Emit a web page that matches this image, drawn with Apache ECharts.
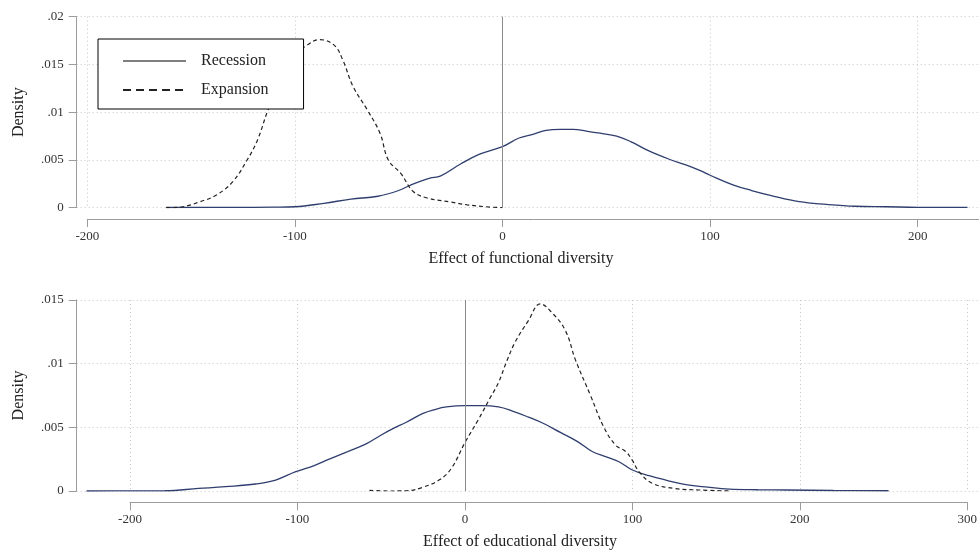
<!DOCTYPE html>
<html>
<head>
<meta charset="utf-8">
<title>Kernel density</title>
<script src="https://cdn.jsdelivr.net/npm/echarts@6.0.0/dist/echarts.min.js"></script>
<style>
    html, body { margin: 0; padding: 0; background: #fff; }
    #chart { width: 979px; height: 556px; }
</style>
</head>
<body>
<div id="chart"></div>
<script>
// top panel: effect of functional diversity
var funcRecX = [-162, -130, -110, -100, -86, -73, -60, -50, -44, -35, -30, -20, -11, 0, 8, 15, 21, 28, 34, 41, 47, 55, 62, 70, 80, 88, 95, 100, 111, 120, 129, 143, 156, 170, 185, 200, 224];
var funcRecY = [.00002, .00003, .00006, .0001, .00046, .0009, .0012, .0018, .0024, .0031, .0033, .0046, .0056, .0064, .0073, .0077, .0081, .0082, .0082, .0080, .0078, .0075, .0069, .0060, .0051, .0045, .0039, .0034, .0024, .0018, .0013, .00063, .00035, .00015, .0001, .00004, .00003];
var funcExpX = [-162, -154, -146, -138, -130, -123, -118, -113, -108, -103, -98, -95, -88, -81, -77, -72, -65, -59, -55, -49, -43, -36, -25, -17, -8, 0];
var funcExpY = [0, .0001, .0006, .0013, .0027, .005, .0071, .0102, .0127, .0149, .0163, .0169, .0176, .0170, .0155, .0127, .0102, .0078, .005, .0036, .0017, .001, .0006, .0003, .0001, 0];

// bottom panel: effect of educational diversity
var eduRecX = [-226, -200, -179, -159, -143, -125, -113, -101, -90, -81, -70, -59, -50, -43, -35, -25, -18, -11, 0, 10, 20, 28, 38, 47, 57, 67, 76, 84, 92, 100, 110, 120, 132, 145, 158, 175, 192, 220, 253];
var eduRecY = [0, .00001, .00002, .0002, .00034, .00055, .00086, .00152, .002, .0025, .0031, .0037, .0044, .0049, .0054, .0061, .0064, .0066, .0067, .0067, .0066, .0063, .0058, .0053, .0046, .0039, .0031, .0027, .0023, .00165, .0012, .00086, .0005, .0003, .00015, .0001, .00008, .00004, .00002];
var eduExpX = [-57, -45, -35, -25, -15, -8, 0, 8, 15, 20, 25, 30, 38, 45, 52, 60, 66, 75, 83, 90, 96, 100, 104, 112, 125, 140, 158];
var eduExpY = [.00005, 0, .00002, .0003, .0009, .0018, .0038, .0056, .0073, .0085, .0102, .0117, .0134, .0147, .014, .0126, .0103, .0075, .005, .0036, .0031, .0024, .0015, .0006, .0002, .00008, 0];

// ticks
var funcXTicks = [-200, -100, 0, 100, 200];
var eduXTicks = [-200, -100, 0, 100, 200, 300];
var funcYTicks = [0, .005, .01, .015, .02];
var funcYLabels = ['0', '.005', '.01', '.015', '.02'];
var eduYTicks = [0, .005, .01, .015];
var eduYLabels = ['0', '.005', '.01', '.015'];

var FONT = '"Liberation Serif", "Times New Roman", serif';
var AXIS = '#9c9c9c';
var GRIDLINE = '#c6c6c6';
var REC = '#2f3e6e';
var EXP = '#222';

function pairs(xs, ys) {
    return xs.map(function (x, i) { return [x, ys[i]]; });
}

//y轴（带网格线）
function yAxisFor(grid, ticks, labels) {
    return {
        gridIndex: grid, type: 'value',
        min: ticks[0], max: ticks[ticks.length - 1], interval: ticks[1] - ticks[0],
        axisLine: {show: true, onZero: false, lineStyle: {color: AXIS}},
        axisTick: {show: true, length: 8, lineStyle: {color: AXIS}},
        axisLabel: {
            margin: 13, fontFamily: FONT, fontSize: 13, color: '#333',
            formatter: function (v) {
                var k = ticks.findIndex(function (t) { return Math.abs(t - v) < 1e-9; });
                return k < 0 ? '' : labels[k];
            }
        },
        splitLine: {show: true, lineStyle: {color: GRIDLINE, type: [1, 3]}},
        name: 'Density', nameLocation: 'middle', nameGap: 50, nameRotate: 90,
        nameTextStyle: {fontFamily: FONT, fontSize: 16, color: '#222'}
    };
}
//x轴（偏移到下方，带竖网格线）
function xAxisFor(grid, ticks, max, showMax) {
    return {
        gridIndex: grid, type: 'value',
        min: ticks[0], max: max, interval: ticks[1] - ticks[0], offset: 11.3,
        axisLine: {show: true, onZero: false, lineStyle: {color: AXIS}},
        axisTick: {show: true, length: 8, lineStyle: {color: AXIS}},
        axisLabel: {margin: 11, fontFamily: FONT, fontSize: 13, color: '#333', showMaxLabel: showMax},
        splitLine: {show: true, lineStyle: {color: GRIDLINE, type: [1, 3]}}
    };
}
function hiddenAxis(grid, min, max) {
    return {gridIndex: grid, type: 'value', min: min, max: max, show: false, splitLine: {show: false}};
}
function recSeries(axisIdx, data) {
    return {
        name: 'Recession', type: 'line', xAxisIndex: axisIdx, yAxisIndex: axisIdx,
        data: data, symbol: 'none', smooth: 0.4,
        lineStyle: {color: REC, width: 1.3}, itemStyle: {color: REC},
        markLine: {
            silent: true, symbol: 'none', label: {show: false}, animation: false,
            lineStyle: {color: '#8a8a8a', width: 1, type: 'solid'},
            data: [{xAxis: 0}]
        }
    };
}
function expSeries(axisIdx, data) {
    return {
        name: 'Expansion', type: 'line', xAxisIndex: axisIdx, yAxisIndex: axisIdx,
        data: data, symbol: 'none', smooth: 0.4,
        lineStyle: {color: EXP, width: 1.2, type: [4, 3]}, itemStyle: {color: EXP}
    };
}

var chart = echarts.init(document.getElementById('chart'), null, {renderer: 'canvas'});
var option = {
    backgroundColor: '#fff',
    animation: false,
    // 0/2: plot areas starting at the y axis, 1/3: offset x axes starting at -200
    // top panel runs 20px past the right edge so the last (unlabelled) tick is hidden
    grid: [
        {left: 76.7, width: 922.3, top: 16.7, height: 191, outerBoundsMode: 'none'},
        {left: 87.3, width: 911.7, top: 16.7, height: 191, outerBoundsMode: 'none'},
        {left: 76.7, right: 0, top: 300, height: 191, outerBoundsMode: 'none'},
        {left: 130, right: 11.7, top: 300, height: 191, outerBoundsMode: 'none'}
    ],
    xAxis: [
        hiddenAxis(0, -205.1, 239.17),
        xAxisFor(1, funcXTicks, 239.17, false),
        hiddenAxis(2, -231.83, 306.99),
        xAxisFor(3, eduXTicks, 300, true)
    ],
    yAxis: [
        yAxisFor(0, funcYTicks, funcYLabels),
        hiddenAxis(1, 0, .02),
        yAxisFor(2, eduYTicks, eduYLabels),
        hiddenAxis(3, 0, .015)
    ],
    legend: {
        left: 98, top: 39, orient: 'vertical',
        padding: [14, 35, 11, 24], itemGap: 13, itemWidth: 63, itemHeight: 14,
        backgroundColor: '#fff', borderColor: '#000', borderWidth: 1, borderRadius: 0,
        itemStyle: {opacity: 0},
        textStyle: {fontFamily: FONT, fontSize: 16, color: '#222', padding: [0, 0, 0, 10]},
        data: [
            {name: 'Recession', lineStyle: {color: '#555', width: 1.6}},
            {name: 'Expansion', lineStyle: {type: [8, 5]}}
        ]
    },
    graphic: [
        {type: 'text', x: 521, y: 259, style: {text: 'Effect of functional diversity', font: '16px ' + FONT, fill: '#222', align: 'center', verticalAlign: 'middle'}},
        {type: 'text', x: 520, y: 541.5, style: {text: 'Effect of educational diversity', font: '16px ' + FONT, fill: '#222', align: 'center', verticalAlign: 'middle'}}
    ],
    series: [
        recSeries(0, pairs(funcRecX, funcRecY)),
        expSeries(0, pairs(funcExpX, funcExpY)),
        recSeries(2, pairs(eduRecX, eduRecY)),
        expSeries(2, pairs(eduExpX, eduExpY))
    ]
};
chart.setOption(option);
</script>
</body>
</html>
